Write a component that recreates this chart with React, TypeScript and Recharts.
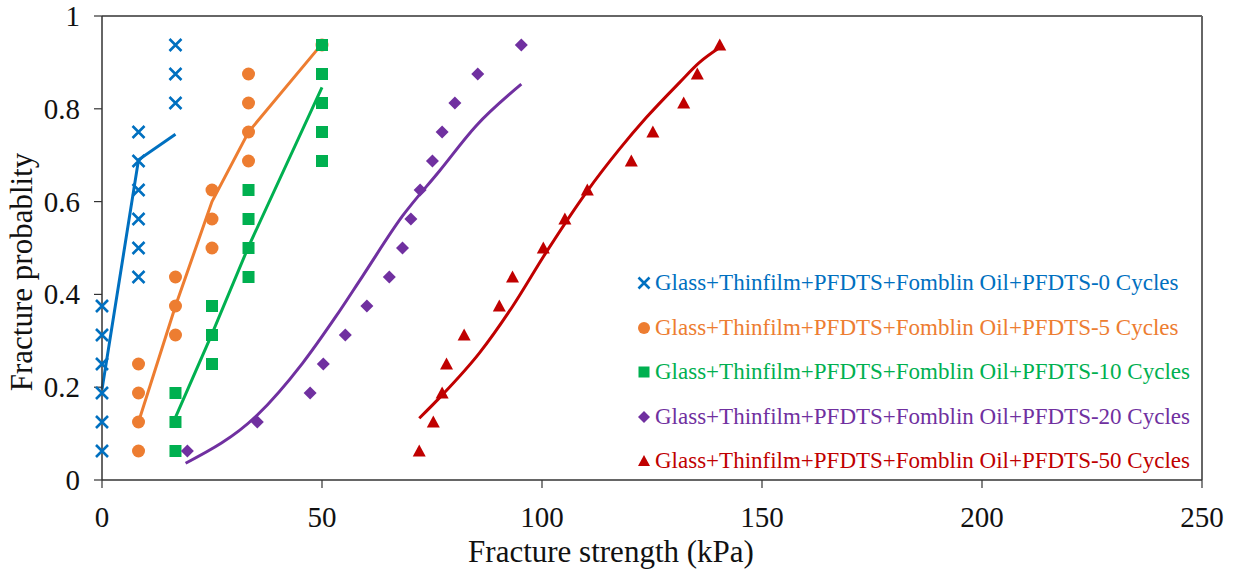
import { ComposedChart, XAxis, YAxis, Scatter, Line, Legend, ReferenceLine } from 'recharts';

const FONT = "'Liberation Serif', 'Times New Roman', serif";

// Fracture probability levels shared by every sample set
const probs = [0.0625, 0.125, 0.1875, 0.25, 0.3125, 0.375, 0.4375, 0.5, 0.5625, 0.625, 0.6875, 0.75, 0.8125, 0.875, 0.9375];

// Measured fracture strength (kPa) per cycle count
const strength0 = [0, 0, 0, 0, 0, 0, 8.3, 8.3, 8.3, 8.3, 8.3, 8.3, 16.7, 16.7, 16.7];
const strength5 = [8.3, 8.3, 8.3, 8.3, 16.7, 16.7, 16.7, 25, 25, 25, 33.3, 33.3, 33.3, 33.3, 50];
const strength10 = [16.7, 16.7, 16.7, 25, 25, 25, 33.3, 33.3, 33.3, 33.3, 50, 50, 50, 50, 50];
const strength20 = [19.4, 35.3, 47.3, 50.3, 55.3, 60.2, 65.3, 68.3, 70.2, 72.3, 75.1, 77.3, 80.2, 85.4, 95.3];
const strength50 = [72.1, 75.3, 77.3, 78.3, 82.3, 90.3, 93.3, 100.3, 105.2, 110.3, 120.3, 125.2, 132.2, 135.3, 140.4];

// Fitted curves
const fit0X = [0, 8.3, 16.7];
const fit0Y = [0.195, 0.69, 0.745];
const fit5X = [8.3, 16.7, 25, 33.3, 50];
const fit5Y = [0.125, 0.375, 0.6, 0.75, 0.94];
const fit10X = [16.7, 25, 33.3, 50];
const fit10Y = [0.135, 0.315, 0.503, 0.846];
const fit20X = [19, 35.3, 45.6, 53.2, 59.2, 68.3, 76.7, 85, 95.3];
const fit20Y = [0.036, 0.14, 0.252, 0.353, 0.439, 0.569, 0.666, 0.763, 0.853];
const fit50X = [72.1, 77.4, 85.8, 93.3, 100.9, 110, 117.6, 123.7, 131.3, 135.8, 140.4];
const fit50Y = [0.133, 0.184, 0.274, 0.374, 0.49, 0.619, 0.713, 0.781, 0.857, 0.9, 0.932];

const xTicks = [0, 50, 100, 150, 200, 250];
const yTicks = [0, 0.2, 0.4, 0.6, 0.8, 1];

const seriesNames = [
  'Glass+Thinfilm+PFDTS+Fomblin Oil+PFDTS-0 Cycles',
  'Glass+Thinfilm+PFDTS+Fomblin Oil+PFDTS-5 Cycles',
  'Glass+Thinfilm+PFDTS+Fomblin Oil+PFDTS-10 Cycles',
  'Glass+Thinfilm+PFDTS+Fomblin Oil+PFDTS-20 Cycles',
  'Glass+Thinfilm+PFDTS+Fomblin Oil+PFDTS-50 Cycles',
];
const seriesColors = ['#0070C0', '#ED7D31', '#00B050', '#7030A0', '#C00000'];

const zip = (xs: number[], ys: number[]) => xs.map((x, i) => ({ x, y: ys[i] }));

type MarkerKind = 'cross' | 'circle' | 'square' | 'diamond' | 'triangle';
const markerKinds: MarkerKind[] = ['cross', 'circle', 'square', 'diamond', 'triangle'];

const Marker = ({ kind, cx, cy, color, s = 6.5 }: { kind: MarkerKind; cx: number; cy: number; color: string; s?: number }) => {
  if (kind === 'cross') {
    const h = s - 0.5;
    return (
      <path
        d={`M${cx - h},${cy - h}L${cx + h},${cy + h}M${cx + h},${cy - h}L${cx - h},${cy + h}`}
        stroke={color}
        strokeWidth={2.6}
        fill="none"
      />
    );
  }
  if (kind === 'circle') return <circle cx={cx} cy={cy} r={s} fill={color} />;
  if (kind === 'square') return <rect x={cx - s + 0.5} y={cy - s + 0.5} width={2 * s - 1} height={2 * s - 1} fill={color} />;
  if (kind === 'diamond') return <path d={`M${cx},${cy - s}L${cx + s},${cy}L${cx},${cy + s}L${cx - s},${cy}Z`} fill={color} />;
  return <path d={`M${cx},${cy - s}L${cx + s},${cy + s - 1}L${cx - s},${cy + s - 1}Z`} fill={color} />;
};

const scatterSets = [strength0, strength5, strength10, strength20, strength50].map((xs) => zip(xs, probs));
const fitSets = [
  { data: zip(fit0X, fit0Y), type: 'linear' },
  { data: zip(fit5X, fit5Y), type: 'linear' },
  { data: zip(fit10X, fit10Y), type: 'linear' },
  { data: zip(fit20X, fit20Y), type: 'monotone' },
  { data: zip(fit50X, fit50Y), type: 'monotone' },
] as const;

const XTick = ({ x, y, payload }: any) => (
  <text x={x} y={y} dy={20.5} textAnchor="middle" fontFamily={FONT} fontSize={29} fill="#111">
    {payload.value}
  </text>
);

const YTick = ({ x, y, payload }: any) => (
  <text x={x} y={y} dy={10} textAnchor="end" fontFamily={FONT} fontSize={29} fill="#111">
    {payload.value}
  </text>
);

const LegendBox = () => (
  <div style={{ fontFamily: FONT, fontSize: 23 }}>
    {seriesNames.map((name, i) => (
      <div key={name} style={{ display: 'flex', alignItems: 'center', height: 44.5, whiteSpace: 'nowrap' }}>
        <svg width={16} height={16} style={{ marginRight: 3 }}>
          <Marker kind={markerKinds[i]} cx={8} cy={8} color={seriesColors[i]} s={6} />
        </svg>
        <span style={{ color: seriesColors[i] }}>{name}</span>
      </div>
    ))}
  </div>
);

const App = () => {
  return (
    <div style={{ position: 'absolute', left: 0, top: 0, background: '#fff' }}>
      <ComposedChart width={1234} height={571} margin={{ top: 16, right: 32, bottom: 0, left: 0 }}>
        <XAxis
          type="number"
          dataKey="x"
          domain={[0, 250]}
          ticks={xTicks}
          height={91}
          tickSize={8}
          tickMargin={18}
          axisLine={{ stroke: '#333', strokeWidth: 1.5 }}
          tickLine={{ stroke: '#333', strokeWidth: 1.2 }}
          tick={<XTick />}
          label={{
            value: 'Fracture strength (kPa)',
            content: () => (
              <text x={611} y={562} textAnchor="middle" fontFamily={FONT} fontSize={31} fill="#111">
                Fracture strength (kPa)
              </text>
            ),
          }}
        />
        <YAxis
          type="number"
          dataKey="y"
          domain={[0, 1]}
          ticks={yTicks}
          width={102}
          tickSize={8}
          tickMargin={14}
          axisLine={{ stroke: '#333', strokeWidth: 1.5 }}
          tickLine={{ stroke: '#333', strokeWidth: 1.2 }}
          tick={<YTick />}
          label={{
            value: 'Fracture probablity',
            content: () => (
              <text x={32} y={272} transform="rotate(-90, 32, 272)" textAnchor="middle" fontFamily={FONT} fontSize={31} fill="#111">
                Fracture probablity
              </text>
            ),
          }}
        />
        <ReferenceLine y={1} stroke="#333" strokeWidth={1.5} />
        <ReferenceLine x={250} stroke="#666" strokeWidth={2} />
        {scatterSets.map((data, i) => (
          <Scatter
            key={`s${i}`}
            name={seriesNames[i]}
            data={data}
            isAnimationActive={false}
            shape={(p: any) => <Marker kind={markerKinds[i]} cx={p.cx} cy={p.cy} color={seriesColors[i]} />}
          />
        ))}
        {fitSets.map((f, i) => (
          <Line
            key={`l${i}`}
            data={f.data}
            dataKey="y"
            type={f.type}
            stroke={seriesColors[i]}
            strokeWidth={3}
            dot={false}
            activeDot={false}
            legendType="none"
            isAnimationActive={false}
          />
        ))}
        <Legend
          layout="vertical"
          align="center"
          verticalAlign="middle"
          content={() => <LegendBox />}
          wrapperStyle={{ left: 636, top: 261, width: 580 }}
        />
      </ComposedChart>
    </div>
  );
};

export default App;
